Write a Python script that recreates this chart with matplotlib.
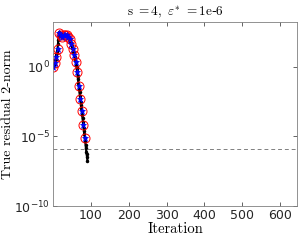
import numpy as np
import matplotlib
matplotlib.use('Agg')
import matplotlib.pyplot as plt
from matplotlib.ticker import NullLocator

# log10 of true residual 2-norm, one value per iteration
log_res = [0.0, 0.1, 0.15, 0.2, 0.25, 0.35, 0.45, 0.55, 0.7, 0.85,
           1.0, 1.15, 1.3, 1.6, 1.9, 2.2, 2.45, 2.5, 2.45, 2.35,
           2.3, 2.25, 2.2, 2.15, 2.15, 2.2, 2.3, 2.35, 2.3, 2.25,
           2.3, 2.3, 2.25, 2.25, 2.3, 2.3, 2.25, 2.2, 2.2, 2.2,
           2.15, 2.1, 2.05, 2.0, 1.95, 1.85, 1.8, 1.7, 1.6, 1.5,
           1.45, 1.35, 1.25, 1.15, 1.05, 0.95, 0.85, 0.7, 0.6, 0.45,
           0.3, 0.15, 0.0, -0.2, -0.4, -0.65, -0.9, -1.15, -1.4, -1.6,
           -1.85, -2.1, -2.35, -2.55, -2.75, -3.0, -3.2, -3.45, -3.7, -3.95,
           -4.15, -4.4, -4.65, -4.85, -5.1, -5.35, -5.6, -5.85, -6.1, -6.3,
           -6.5, -6.75]
marker_step = 4
marker_last = 84
tol_line = 10 ** -5.9

iters = np.arange(len(log_res))
res = 10.0 ** np.array(log_res)
mk_it = iters[:marker_last + 1:marker_step]
mk_res = res[:marker_last + 1:marker_step]

fig = plt.figure(figsize=(2.98, 2.45), dpi=100)
ax = fig.add_axes([0.178, 0.159, 0.819, 0.751])

ax.plot(iters, res, '-', color='black', lw=1.6, marker='.', ms=3)
ax.plot(mk_it, mk_res, 'o', mfc='none', mec='red', ms=6.5, mew=0.7)
ax.plot(mk_it, mk_res, '*', color='blue', ms=5, mew=0.5)
ax.axhline(tol_line, color='#808080', ls='--', lw=0.7, dashes=(4, 3))

ax.set_yscale('log')
ax.set_xlim(0, 645)
ax.set_ylim(1e-10, 10 ** 3.2)
ax.set_xticks([100, 200, 300, 400, 500, 600])
ax.set_yticks([1e-10, 1e-5, 1e0])
ax.yaxis.set_minor_locator(NullLocator())
ax.tick_params(direction='in', top=True, right=True, length=3, width=0.5,
               labelsize=9, colors='#262626', pad=2)
for sp in ax.spines.values():
    sp.set_linewidth(0.6)
    sp.set_color('#808080')

ax.set_title(r'$\mathrm{s\ =4,}\ \varepsilon^{*}\ \mathrm{=1e}$-$\mathrm{6}$',
             fontsize=9.5, math_fontfamily='cm', pad=4)
ax.set_xlabel('Iteration', fontfamily='cmr10', fontsize=10.5, labelpad=0)
ax.set_ylabel('True residual 2-norm', fontfamily='cmr10', fontsize=10)
ax.yaxis.set_label_coords(-0.158, 0.5)

fig.savefig('out.png', dpi=100)
